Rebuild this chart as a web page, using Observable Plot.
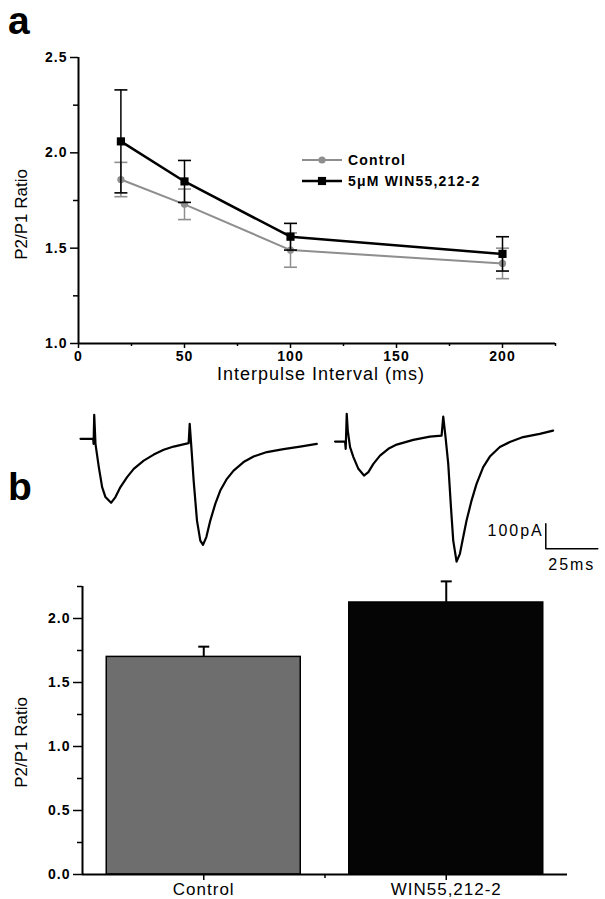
<!DOCTYPE html>
<html><head><meta charset="utf-8">
<script src="https://cdn.jsdelivr.net/npm/d3@7"></script>
<script src="https://cdn.jsdelivr.net/npm/@observablehq/plot@0.6"></script>
<style>
body{margin:0;background:#fff;}
#root{position:relative;width:605px;height:899px;overflow:hidden;font-family:Arial,"Liberation Sans",Helvetica,sans-serif;color:#000;}
</style></head><body><div id="root"></div>
<script>
// ---------- Panel a: paired-pulse ratio vs interval ----------
const intervals = [20, 50, 100, 200];
const controlMean = [1.86, 1.73, 1.49, 1.42];
const controlErr  = [0.09, 0.08, 0.09, 0.08];
const winMean     = [2.06, 1.85, 1.56, 1.47];
const winErr      = [0.27, 0.11, 0.07, 0.09];
const seriesNames = ["Control", "5\u03bcM WIN55,212-2"];
const xTicksA = [0, 50, 100, 150, 200];
const xMinorA = [25, 75, 125, 175, 225];
const yTicksA = [1.0, 1.5, 2.0, 2.5];
const yMinorA = [1.25, 1.75, 2.25];
const xLabelA = "Interpulse Interval (ms)";
const yLabel = "P2/P1 Ratio";
const panelLetters = ["a", "b"];

// ---------- Panel b: representative traces ----------
const traceControlT = [0, 6.1, 6.3, 6.6, 7.2, 8.8, 10.4, 12, 14.7, 16.8, 19.2, 22.4, 25.6, 30.4, 35.2, 40, 44.8, 52, 52.5, 53.3, 54.4, 56, 57.6, 58.9, 60.5, 62.4, 64.8, 67.2, 70.4, 73.6, 78.4, 83.2, 89.6, 97.6, 105.6, 113.6];
const traceControlI = [0, 0, -20, 96, -20, -113, -193, -233, -256, -233, -193, -153, -120, -87, -63, -44, -31, -17, 60, -33, -167, -327, -407, -424, -393, -327, -260, -207, -160, -127, -93, -71, -53, -41, -31, -20];
const traceWinT = [122.4, 127.2, 127.5, 128, 128.5, 129.6, 131.2, 133.6, 136.3, 138.4, 140.8, 144, 148, 152, 160, 168, 173.6, 174.4, 175.5, 176.8, 178.1, 179.2, 180.8, 182.4, 184, 185.6, 188, 190.4, 193.6, 196.8, 201.6, 206.4, 212.8, 220.8, 227.2];
const traceWinI = [-11, -11, -40, 100, 33, -33, -73, -120, -147, -133, -100, -67, -40, -23, -4, 9, 13, 89, 7, -100, -273, -407, -491, -460, -393, -327, -247, -180, -113, -71, -33, -13, 7, 20, 33];
const scaleBarMs = 25, scaleBarPa = 100;
const scaleBarOrigin = [223.7, -440];
const scaleBarLabels = ["100pA", "25ms"];

// ---------- Panel b: bar chart ----------
const barCategories = ["Control", "WIN55,212-2"];
const barMeans = [1.70, 2.125];
const barErrs  = [0.08, 0.165];
const yTicksB = [0, 0.5, 1.0, 1.5, 2.0];
const yMinorB = [0.25, 0.75, 1.25, 1.75, 2.25];

// ---------- styles ----------
const font = 'Arial, "Liberation Sans", Helvetica, sans-serif';
const seriesColors = ["#8e8e8e", "#000000"];
const seriesSymbols = ["circle", "square"];
const seriesMarkerR = [3.6, 4.6];
const seriesLineW = [2, 2.5];
const barFills = ["#6e6e6e", "#050505"];

const root = document.getElementById("root");
function place(el, top, left = 0) {
  el.style.position = "absolute"; el.style.top = top + "px"; el.style.left = left + "px";
  root.appendChild(el);
}
const cap = {draw(ctx, size) { const w = Math.sqrt(size / Math.PI); ctx.moveTo(-w, 0); ctx.lineTo(w, 0); }};
const fmt1 = d3.format(".1f");

// ===== Plot A =====
const dataA = seriesNames.flatMap((s, k) => intervals.map((x, i) => ({
  series: s, k, x, y: k ? winMean[i] : controlMean[i], e: k ? winErr[i] : controlErr[i]
})));
const marksA = [];
seriesNames.forEach((s, k) => {
  const d = dataA.filter(p => p.k === k);
  const caps = d.flatMap(p => [{x: p.x, v: p.y - p.e}, {x: p.x, v: p.y + p.e}]);
  marksA.push(
    Plot.ruleX(d, {x: "x", y1: p => p.y - p.e, y2: p => p.y + p.e, stroke: seriesColors[k], strokeWidth: 1.5}),
    Plot.dot(caps, {x: "x", y: "v", symbol: cap, r: 6.5, stroke: seriesColors[k], strokeWidth: 1.6, fill: "none"}),
    Plot.line(d, {x: "x", y: "y", stroke: seriesColors[k], strokeWidth: seriesLineW[k]}),
    Plot.dot(d, {x: "x", y: "y", symbol: seriesSymbols[k], r: seriesMarkerR[k], fill: seriesColors[k], stroke: "none"})
  );
});
const plotA = Plot.plot({
  width: 605, height: 400, marginLeft: 78, marginRight: 50, marginTop: 57, marginBottom: 57,
  style: {background: "none", fontFamily: font, letterSpacing: "1px", color: "#000", overflow: "visible"},
  x: {domain: [0, 225]}, y: {domain: [1, 2.5]},
  marks: [
    Plot.axisY(yTicksA, {tickSize: 8, tickPadding: 3, tickFormat: fmt1, fontSize: 14, fontWeight: "bold", label: null, strokeWidth: 1.5}),
    Plot.axisY(yMinorA, {tickSize: 5, tickFormat: () => "", label: null, strokeWidth: 1.5}),
    Plot.axisX(xTicksA, {tickSize: 5, tickPadding: 3, fontSize: 14, fontWeight: "bold", label: null, strokeWidth: 1.5}),
    Plot.axisX(xMinorA, {tickSize: 3, tickFormat: () => "", label: null, strokeWidth: 1.5}),
    Plot.ruleX([0], {stroke: "#000", strokeWidth: 2}),
    Plot.ruleY([1], {stroke: "#000", strokeWidth: 2}),
    Plot.text([xLabelA], {text: d => d, frameAnchor: "bottom", textAnchor: "middle", dx: 4, dy: 36, fontSize: 18}),
    Plot.text([yLabel], {text: d => d, frameAnchor: "left", textAnchor: "middle", rotate: -90, dx: -57, dy: 14, fontSize: 17}),
    ...marksA
  ]
});
place(plotA, 0);

// legend (panel a)
const leg = d3.create("svg").attr("width", 230).attr("height", 46)
  .style("font-family", font).style("overflow", "visible");
seriesNames.forEach((s, k) => {
  const cy = 12 + k * 21;
  const g = leg.append("g").attr("transform", `translate(0,${cy})`);
  g.append("line").attr("x1", 2).attr("x2", 42).attr("y1", 0).attr("y2", 0)
    .attr("stroke", seriesColors[k]).attr("stroke-width", seriesLineW[k]);
  g.append("path").attr("transform", "translate(22,0)")
    .attr("d", d3.symbol(k ? d3.symbolSquare : d3.symbolCircle, Math.PI * seriesMarkerR[k] ** 2)())
    .attr("fill", seriesColors[k]);
  g.append("text").attr("x", 48).attr("y", 0).attr("dy", "0.36em")
    .attr("font-size", 14).attr("font-weight", "bold").style("letter-spacing", "1.2px").text(s);
});
place(leg.node(), 148, 300);

// ===== Traces =====
const traceC = traceControlT.map((t, i) => ({t, I: traceControlI[i]}));
const traceW = traceWinT.map((t, i) => ({t, I: traceWinI[i]}));
const [sx, sy] = scaleBarOrigin;
const scaleBar = [{t: sx, I: sy + scaleBarPa}, {t: sx, I: sy}, {t: sx + scaleBarMs, I: sy}];
const plotT = Plot.plot({
  width: 605, height: 180, marginLeft: 80, marginRight: 5, marginTop: 0, marginBottom: 0,
  style: {background: "none", fontFamily: font, letterSpacing: "2px", color: "#000", overflow: "visible"},
  x: {domain: [0, 250], axis: null}, y: {domain: [-546.7, 173.3], axis: null},
  marks: [
    Plot.line(traceC, {x: "t", y: "I", stroke: "#000", strokeWidth: 2.2, strokeLinejoin: "round"}),
    Plot.line(traceW, {x: "t", y: "I", stroke: "#000", strokeWidth: 2.2, strokeLinejoin: "round"}),
    Plot.line(scaleBar, {x: "t", y: "I", stroke: "#000", strokeWidth: 1.5}),
    Plot.text([scaleBarLabels[0]], {text: d => d, x: sx, y: sy + scaleBarPa * 0.73, textAnchor: "end", dx: -2, fontSize: 16}),
    Plot.text([scaleBarLabels[1]], {text: d => d, x: sx + scaleBarMs / 2, y: sy, dy: 16, fontSize: 16})
  ]
});
place(plotT, 395);

// ===== Plot B (bars) =====
const barData = barCategories.map((c, i) => ({cat: c, pos: i + 1, mean: barMeans[i], err: barErrs[i]}));
const marksB = [];
barData.forEach((d, i) => {
  marksB.push(
    Plot.ruleX([d], {x: "pos", y1: "mean", y2: p => p.mean + p.err, stroke: "#000", strokeWidth: 2}),
    Plot.dot([d], {x: "pos", y: p => p.mean + p.err, symbol: cap, r: 5.5, stroke: "#000", strokeWidth: 2}),
    Plot.rectY([d], {x1: p => p.pos - 0.4, x2: p => p.pos + 0.4, y1: 0, y2: "mean", fill: barFills[i], stroke: "#000", strokeWidth: 1.5})
  );
});
const plotB = Plot.plot({
  width: 605, height: 324, marginLeft: 82, marginRight: 38, marginTop: 11, marginBottom: 25,
  style: {background: "none", fontFamily: font, letterSpacing: "1px", color: "#000", overflow: "visible"},
  x: {domain: [0.5, 2.5]}, y: {domain: [0, 2.25]},
  marks: [
    ...marksB,
    Plot.axisY(yTicksB, {tickSize: 9, tickPadding: 3, tickFormat: fmt1, fontSize: 14, fontWeight: "bold", label: null, strokeWidth: 1.5}),
    Plot.axisY(yMinorB, {tickSize: 5, tickFormat: () => "", label: null, strokeWidth: 1.5}),
    Plot.axisX([1, 2], {tickSize: 6, tickPadding: 2, tickFormat: d => barCategories[d - 1], fontSize: 17, label: null, strokeWidth: 1.5}),
    Plot.axisX([1.5], {tickSize: 4, tickFormat: () => "", label: null, strokeWidth: 1.5}),
    Plot.ruleX([0.5], {stroke: "#000", strokeWidth: 2}),
    Plot.ruleY([0], {stroke: "#000", strokeWidth: 2}),
    Plot.text([yLabel], {text: d => d, frameAnchor: "left", textAnchor: "middle", rotate: -90, dx: -61, dy: 12, fontSize: 17})
  ]
});
place(plotB, 575);

// y-labels without extra letter spacing
d3.selectAll("#root svg text").filter(function () { return this.textContent === yLabel; })
  .style("letter-spacing", "0px");

// panel letters
const letters = d3.create("svg").attr("width", 605).attr("height", 899)
  .style("font-family", font).style("pointer-events", "none");
letters.selectAll("text").data(panelLetters).join("text")
  .attr("x", 8).attr("y", (d, i) => i ? 500 : 34)
  .attr("font-size", 39).attr("font-weight", "bold").text(d => d);
place(letters.node(), 0);
</script></body></html>
